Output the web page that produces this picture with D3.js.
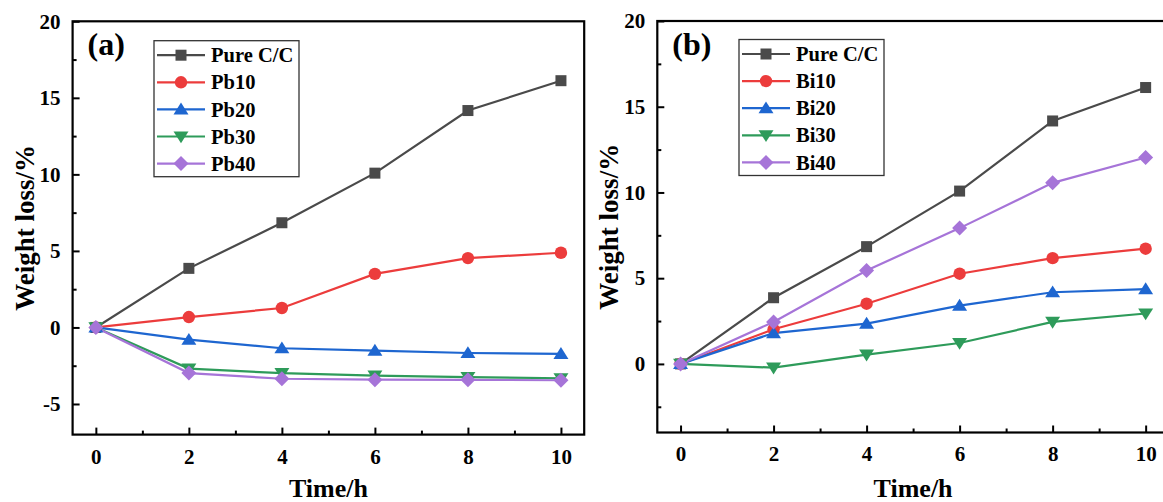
<!DOCTYPE html>
<html><head><meta charset="utf-8">
<script src="https://cdn.jsdelivr.net/npm/d3@7"></script>
<style>
html,body{margin:0;padding:0;background:#fff;overflow:hidden;}
svg{display:block;}
svg text{font-family:"Liberation Serif","Times New Roman",serif !important;font-weight:bold;fill:#000;}
</style></head>
<body><svg id="chart" width="1163" height="502" font-family="Liberation Serif"></svg>
<script>
const timeH = [0, 2, 4, 6, 8, 10];
const xTicks = [0, 2, 4, 6, 8, 10];
const yTicksA = [-5, 0, 5, 10, 15, 20];
const yTicksB = [0, 5, 10, 15, 20];

const pureCC = [0, 3.86, 6.84, 10.08, 14.17, 16.12];
const pb10 = [0, 0.68, 1.27, 3.50, 4.53, 4.88];
const pb20 = [0, -0.80, -1.36, -1.51, -1.67, -1.72];
const pb30 = [0, -2.69, -2.99, -3.15, -3.24, -3.32];
const pb40 = [0, -2.98, -3.35, -3.41, -3.42, -3.45];

const bi10 = [0, 2.02, 3.51, 5.26, 6.17, 6.72];
const bi20 = [0, 1.80, 2.35, 3.40, 4.18, 4.36];
const bi30 = [0, -0.22, 0.54, 1.22, 2.45, 2.94];
const bi40 = [0, 2.45, 5.45, 7.92, 10.56, 12.04];

const namesA = ["Pure C/C", "Pb10", "Pb20", "Pb30", "Pb40"];
const namesB = ["Pure C/C", "Bi10", "Bi20", "Bi30", "Bi40"];
const colors = ["#4a4a4a", "#ec3c3c", "#1e66d0", "#2e9b5a", "#a674d8"];
const shapes = ["square", "circle", "triangle", "triangleDown", "diamond"];

const FONT = "'Liberation Serif','Times New Roman',serif";
const svg = d3.select("#chart");

function marker(g, shape, x, y, color) {
  const s = 5.5;
  if (shape === "square") {
    g.append("rect").attr("x", x - s).attr("y", y - s).attr("width", 2*s).attr("height", 2*s).attr("fill", color);
  } else if (shape === "circle") {
    g.append("circle").attr("cx", x).attr("cy", y).attr("r", s + 0.7).attr("fill", color);
  } else if (shape === "triangle") {
    const h = 6.8;
    g.append("path").attr("d", `M${x},${y-h}L${x+h*1.1},${y+h*0.75}L${x-h*1.1},${y+h*0.75}Z`).attr("fill", color);
  } else if (shape === "triangleDown") {
    const h = 6.8;
    g.append("path").attr("d", `M${x},${y+h}L${x+h*1.1},${y-h*0.75}L${x-h*1.1},${y-h*0.75}Z`).attr("fill", color);
  } else {
    const h = 7.5;
    g.append("path").attr("d", `M${x},${y-h}L${x+h},${y}L${x},${y+h}L${x-h},${y}Z`).attr("fill", color);
  }
}

function panel(cfg) {
  const g = svg.append("g").attr("font-family", FONT);
  const x = d3.scaleLinear().domain([-0.5, 10.5]).range([cfg.left, cfg.left + 511.6]);
  const y = d3.scaleLinear().domain(cfg.yDomain).range([cfg.bottom, cfg.top]);

  const fmt = d => String(d);
  const xAxis = d3.axisBottom(x).tickValues(xTicks).tickSize(-7).tickPadding(14).tickFormat(fmt);
  const gx = g.append("g").attr("transform", `translate(0,${cfg.bottom})`).call(xAxis);
  const xMinor = d3.axisBottom(x).tickValues([1,3,5,7,9]).tickSize(-4).tickFormat("");
  const gxm = g.append("g").attr("transform", `translate(0,${cfg.bottom})`).call(xMinor);

  const yAxis = d3.axisLeft(y).tickValues(cfg.yTicks).tickSize(-7).tickPadding(12).tickFormat(fmt);
  const gy = g.append("g").attr("transform", `translate(${cfg.left},0)`).call(yAxis);
  const yMinor = d3.axisLeft(y).tickValues(cfg.yMinor).tickSize(-4).tickFormat("");
  const gym = g.append("g").attr("transform", `translate(${cfg.left},0)`).call(yMinor);

  [gx, gxm, gy, gym].forEach(a => {
    a.attr("font-family", FONT).attr("font-size", 21);
    a.select(".domain").remove();
    a.selectAll(".tick line").attr("stroke", "#000").attr("stroke-width", 2);
    a.selectAll("text").attr("font-size", 21).style("font-family", FONT).attr("font-weight", "bold").attr("fill", "#000");
  });

  g.append("rect").attr("x", x.range()[0]).attr("y", cfg.top)
    .attr("width", x.range()[1] - x.range()[0]).attr("height", cfg.bottom - cfg.top)
    .attr("fill", "none").attr("stroke", "#000").attr("stroke-width", 2.2);

  const line = d3.line().x((d, i) => x(timeH[i])).y(d => y(d));
  cfg.series.forEach((s, k) => {
    g.append("path").datum(s).attr("d", line).attr("fill", "none")
      .attr("stroke", colors[k]).attr("stroke-width", 2.2);
  });
  cfg.series.forEach((s, k) => {
    s.forEach((v, i) => marker(g, shapes[k], x(timeH[i]), y(v), colors[k]));
  });

  const lg = g.append("g");
  lg.append("rect").attr("x", cfg.legX).attr("y", cfg.legY).attr("width", 145).attr("height", 136)
    .attr("fill", "#fff").attr("stroke", "#333").attr("stroke-width", 1.3);
  cfg.names.forEach((n, k) => {
    const yy = cfg.legY + 14.5 + k * 27.1;
    lg.append("line").attr("x1", cfg.legX + 3).attr("x2", cfg.legX + 51).attr("y1", yy).attr("y2", yy)
      .attr("stroke", colors[k]).attr("stroke-width", 2.2);
    marker(lg, shapes[k], cfg.legX + 27, yy, colors[k]);
    lg.append("text").attr("x", cfg.legX + 57).attr("y", yy).attr("dy", "0.35em")
      .attr("font-size", 20.5).style("font-family", FONT).text(n);
  });

  g.append("text").attr("x", cfg.left + 15).attr("y", cfg.top + 34).attr("font-size", 32)
    .style("font-family", FONT).text(cfg.label);

  g.append("text").attr("x", (x.range()[0] + x.range()[1]) / 2).attr("y", 497)
    .attr("text-anchor", "middle").attr("font-size", 26).style("font-family", FONT).text("Time/h");
  g.append("text").attr("transform", `translate(${cfg.ytitleX},${(cfg.top + cfg.bottom) / 2}) rotate(-90)`)
    .attr("text-anchor", "middle").attr("font-size", 27).style("font-family", FONT).text("Weight loss/%");
}

panel({left: 72.6, top: 21.3, bottom: 434.6, yDomain: [-7, 20], yTicks: yTicksA, yMinor: [-2.5, 2.5, 7.5, 12.5, 17.5],
  series: [pureCC, pb10, pb20, pb30, pb40], names: namesA, legX: 154, legY: 40.7, label: "(a)", ytitleX: 34});
panel({left: 657.3, top: 21, bottom: 432.5, yDomain: [-4, 20], yTicks: yTicksB, yMinor: [-2.5, 2.5, 7.5, 12.5, 17.5],
  series: [pureCC, bi10, bi20, bi30, bi40], names: namesB, legX: 739, legY: 39.5, label: "(b)", ytitleX: 618});
</script></body></html>
